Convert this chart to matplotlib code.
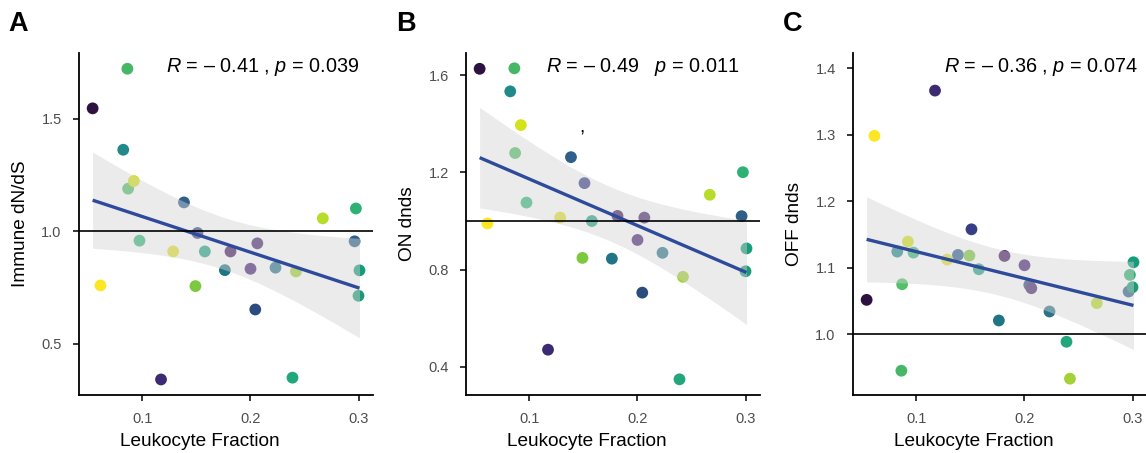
import numpy as np
import matplotlib
matplotlib.use("Agg")
import matplotlib.pyplot as plt

plt.rcParams['font.family'] = ['Liberation Sans', 'DejaVu Sans']
plt.rcParams['mathtext.fontset'] = 'custom'
plt.rcParams['mathtext.it'] = 'Liberation Sans:italic'
plt.rcParams['mathtext.rm'] = 'Liberation Sans'

# ---- data ----
leukocyte = [0.0543, 0.0615, 0.0826, 0.0864, 0.0871, 0.0924, 0.0976, 0.1175, 0.1287,
             0.1387, 0.1493, 0.1512, 0.1580, 0.1765, 0.1817, 0.2002, 0.2046, 0.2065,
             0.2233, 0.2390, 0.2422, 0.2670, 0.2976, 0.2964, 0.3009, 0.3000]
immune_dnds = [1.547, 0.760, 1.363, 1.723, 1.190, 1.224, 0.959, 0.342, 0.911,
               1.129, 0.757, 0.993, 0.911, 0.828, 0.911, 0.834, 0.653, 0.947,
               0.839, 0.350, 0.822, 1.058, 1.102, 0.956, 0.827, 0.714]
on_dnds = [1.627, 0.990, 1.534, 1.629, 1.280, 1.395, 1.076, 0.470, 1.014,
           1.263, 0.848, 1.156, 1.000, 0.845, 1.021, 0.922, 0.705, 1.014,
           0.869, 0.348, 0.770, 1.108, 1.201, 1.020, 0.887, 0.793]
off_dnds = [1.052, 1.2985, 1.1245, 0.9455, 1.0755, 1.1395, 1.123, 1.3665, 1.1125,
            1.1195, 1.1185, 1.158, 1.098, 1.021, 1.118, 1.104, 1.0745, 1.0695,
            1.0345, 0.989, 0.9335, 1.047, 1.0895, 1.0645, 1.1085, 1.071]
point_colors = ['#2d1140', '#fde725', '#21898a', '#45b767', '#52c066', '#d4e21a',
                '#35b779', '#3c2a72', '#e0e030', '#2f5f8b', '#7cc83f', '#383e85',
                '#22a385', '#1f7585', '#46185f', '#482475', '#2c4c80', '#47286e',
                '#2a738c', '#22a67c', '#a2d235', '#b8dc2a', '#2eb174', '#2d5f88',
                '#179c7a', '#1a9a78']

panel_letters = ['A', 'B', 'C']
y_labels = ['Immune dN/dS', 'ON dnds', 'OFF dnds']
stat_labels = [r'$R$ = – 0.41 , $p$ = 0.039',
               r'$R$ = – 0.49   $p$ = 0.011',
               r'$R$ = – 0.36 , $p$ = 0.074']
y_ticks = [[0.5, 1.0, 1.5], [0.4, 0.8, 1.2, 1.6], [1.0, 1.1, 1.2, 1.3, 1.4]]
y_limits = [(0.273, 1.793), (0.2834, 1.692), (0.909, 1.423)]
x_ticks = [0.1, 0.2, 0.3]
series = [immune_dnds, on_dnds, off_dnds]

W, H = 1146, 453
fig = plt.figure(figsize=(W / 100, H / 100), dpi=100)

lefts = [79, 466, 853]
ax_w = 294
top, bottom = 53, 395
stat_x = [166, 546, 944]
letter_x = [8, 396, 783]

T_CRIT = 2.0639  # t(0.975, df=24)

x = np.array(leukocyte)
for i in range(3):
    y = np.array(series[i])
    ax = fig.add_axes([lefts[i] / W, (H - bottom) / H, ax_w / W, (bottom - top) / H])
    ax.scatter(x, y, s=72, c=point_colors, linewidths=0, zorder=2)

    # linear fit and 95% confidence band
    n = len(x)
    b1, b0 = np.polyfit(x, y, 1)
    resid = y - (b0 + b1 * x)
    s = np.sqrt(np.sum(resid ** 2) / (n - 2))
    xg = np.linspace(x.min(), x.max(), 100)
    yg = b0 + b1 * xg
    se = s * np.sqrt(1 / n + (xg - x.mean()) ** 2 / np.sum((x - x.mean()) ** 2))
    ax.fill_between(xg, yg - T_CRIT * se, yg + T_CRIT * se, color='#d3d3d3',
                    alpha=0.45, linewidth=0, zorder=3)
    ax.plot(xg, yg, color='#2E4A9B', lw=2.4, zorder=4, solid_capstyle='butt')
    ax.axhline(1.0, color='black', lw=1.2, zorder=5)

    ax.set_xlim(0.0417, 0.3134)
    ax.set_ylim(*y_limits[i])
    ax.set_xticks(x_ticks)
    ax.set_xticklabels([f'{t:.1f}' for t in x_ticks])
    ax.set_yticks(y_ticks[i])
    ax.set_yticklabels([f'{t:.1f}' for t in y_ticks[i]])
    for sp in ['top', 'right']:
        ax.spines[sp].set_visible(False)
    for sp in ['left', 'bottom']:
        ax.spines[sp].set_linewidth(1.3)
    ax.tick_params(axis='both', length=4.5, width=1.1, color='black',
                   labelcolor='#4d4d4d', labelsize=10.5)
    ax.tick_params(axis='y', pad=8)
    ax.tick_params(axis='x', pad=8)
    ax.set_xlabel('Leukocyte Fraction', fontsize=13.7, color='black')
    ax.set_ylabel(y_labels[i], fontsize=13.7, color='black')
    ax.xaxis.set_label_coords(0.41, -0.112)
    ax.yaxis.set_label_coords(-0.17, 0.5)
    ax.patch.set_visible(False)

    fig.text(stat_x[i] / W, (H - 67) / H, stat_labels[i], fontsize=14.3,
             ha='left', va='center')
    fig.text(letter_x[i] / W, (H - 24) / H, panel_letters[i], fontsize=19.5,
             fontweight='bold', ha='left', va='center')
    if i == 1:
        ax.text(0.149, 1.383, ',', fontsize=14, ha='center', va='center')

fig.savefig('out.png', dpi=100)
